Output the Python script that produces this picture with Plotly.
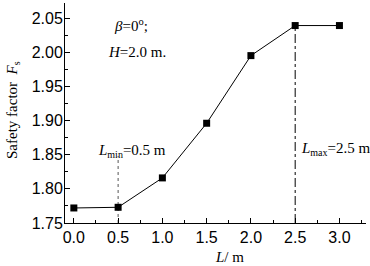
import plotly.graph_objects as go

L_values = [0.0, 0.5, 1.0, 1.5, 2.0, 2.5, 3.0]
Fs_values = [1.772, 1.773, 1.816, 1.896, 1.995, 2.039, 2.039]
x_ticks = [0.0, 0.5, 1.0, 1.5, 2.0, 2.5, 3.0]
x_ticklabels = ["0.0", "0.5", "1.0", "1.5", "2.0", "2.5", "3.0"]
y_ticks = [1.75, 1.80, 1.85, 1.90, 1.95, 2.00, 2.05]
y_ticklabels = ["1.75", "1.80", "1.85", "1.90", "1.95", "2.00", "2.05"]
L_min = 0.5
L_max = 2.5
L_min_line_top = 1.848

fig = go.Figure()
fig.add_trace(go.Scatter(x=[L_min, L_min], y=[1.75, L_min_line_top], mode="lines",
                         line=dict(color="#555555", width=1, dash="dot"), showlegend=False))
fig.add_trace(go.Scatter(x=[L_max, L_max], y=[1.75, Fs_values[L_values.index(L_max)]], mode="lines",
                         line=dict(color="black", width=1, dash="dashdot"), showlegend=False))
fig.add_trace(go.Scatter(x=L_values, y=Fs_values, mode="lines+markers",
                         line=dict(color="black", width=1),
                         marker=dict(symbol="square", size=7, color="black"),
                         showlegend=False))

serif = dict(family="Liberation Serif, Times New Roman, serif", size=15, color="black")
tickfont = dict(family="Liberation Sans, Arial, sans-serif", size=16, color="black")

fig.update_layout(
    width=370, height=266,
    margin=dict(l=65, r=4, t=3, b=43),
    plot_bgcolor="white", paper_bgcolor="white",
    xaxis=dict(range=[-0.1, 3.3], tickvals=x_ticks, ticktext=x_ticklabels,
               ticks="inside", ticklen=5, tickwidth=1, tickcolor="black",
               minor=dict(ticks="inside", ticklen=3, tickwidth=1, tickcolor="black", dtick=0.25),
               showline=True, linecolor="black", linewidth=1, showgrid=False, zeroline=False,
               tickfont=tickfont),
    yaxis=dict(range=[1.75, 2.072], tickvals=y_ticks, ticktext=y_ticklabels,
               ticks="inside", ticklen=5, tickwidth=1, tickcolor="black",
               minor=dict(ticks="inside", ticklen=3, tickwidth=1, tickcolor="black", dtick=0.025),
               showline=True, linecolor="black", linewidth=1, showgrid=False, zeroline=False,
               tickfont=tickfont, ticklabelstandoff=-2),
)

plot_l, plot_r, plot_t, plot_b = 65, 366, 3, 223
def px(x):
    return (x - plot_l) / (plot_r - plot_l)
def py(y):
    return (plot_b - y) / (plot_b - plot_t)

sub = '<sub><span style="font-size:10px">{}</span></sub>'
ann = [
    dict(text="<i>β</i>=0<sup>o</sup>;", x=112, y=25),
    dict(text="<i>H</i>=2.0 m.", x=106, y=52),
    dict(text="<i>L</i>" + sub.format("min") + "=0.5 m", x=96, y=151),
    dict(text="<i>L</i>" + sub.format("max") + "=2.5 m", x=299, y=149),
]
for a in ann:
    fig.add_annotation(text=a["text"], x=px(a["x"]), y=py(a["y"]),
                       xref="paper", yref="paper", xanchor="left", yanchor="middle",
                       showarrow=False, font=serif)

fig.add_annotation(text="Safety factor  <i>F</i>" + sub.format("s"), textangle=-90,
                   x=px(13), y=py(110), xref="paper", yref="paper",
                   xanchor="center", yanchor="middle", showarrow=False, font=serif)
fig.add_annotation(text="<i>L</i>/ m", x=px(229), y=py(257), xref="paper", yref="paper",
                   xanchor="center", yanchor="middle", showarrow=False, font=serif)

fig.write_html("out.html")
